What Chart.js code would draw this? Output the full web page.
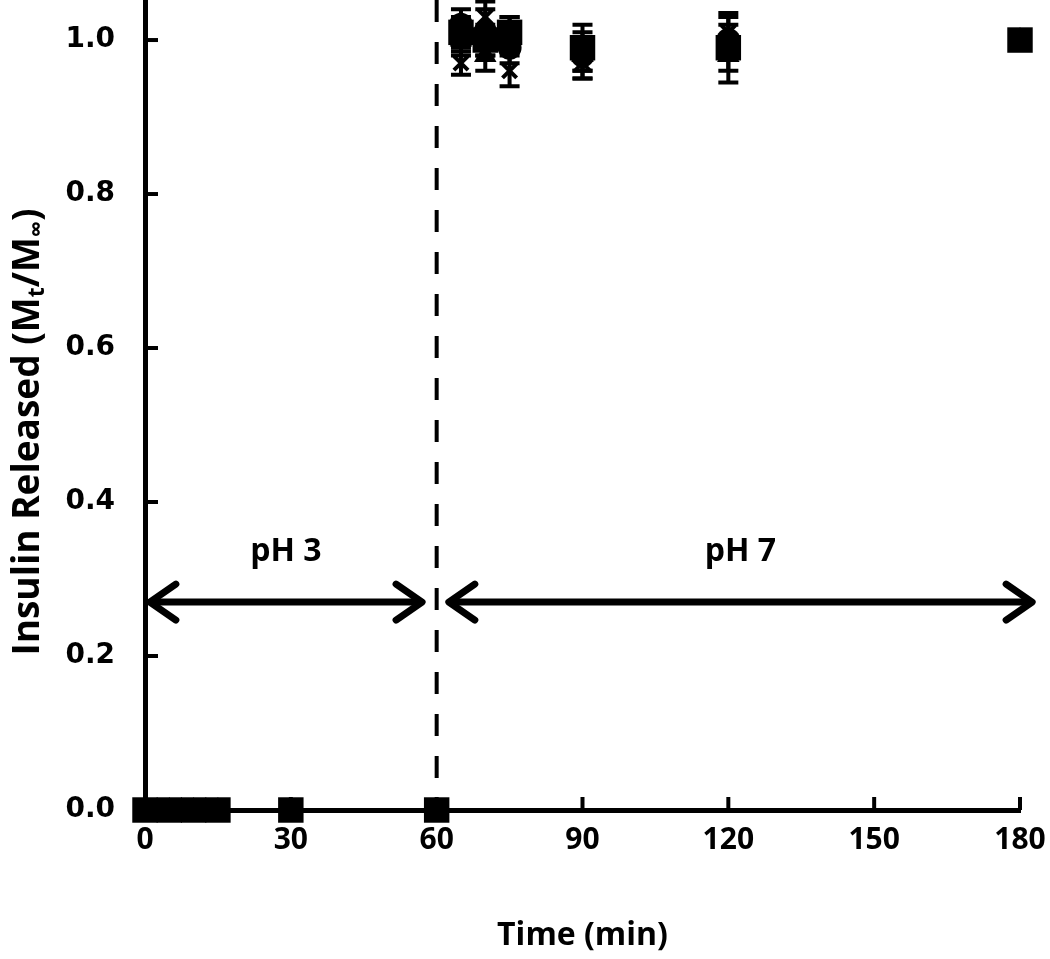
<!DOCTYPE html>
<html>
<head>
<meta charset="utf-8">
<script src="https://cdn.jsdelivr.net/npm/chart.js@4.4.0/dist/chart.umd.min.js"></script>
<style>
html,body{margin:0;padding:0;background:#fff;}
#wrap{width:1050px;height:959px;position:relative;}
</style>
</head>
<body>
<div id="wrap"><canvas id="c" width="1050" height="959"></canvas></div>
<script>
// ---- data ----
const times   = [0, 5, 10, 15, 30, 60, 65, 70, 75, 90, 120, 180];
const seriesA = [0, 0, 0, 0, 0, 0, 1.01, 1.00, 1.01, 0.99, 0.99, 1.00];
const seriesB = [0, 0, 0, 0, 0, 0, 1.02, 1.01, 0.99, 0.98, 1.00, 1.00];
const seriesC = [0, 0, 0, 0, 0, 0, 1.00, 0.98, 1.01, 0.98, 0.98, 1.00];
const seriesD = [0, 0, 0, 0, 0, 0, 0.97, 1.03, 0.96, 0.97, 1.01, 1.00];
const errA    = [0, 0, 0, 0, 0, 0, 0.02, 0.02, 0.02, 0.03, 0.045, 0];
const errB    = [0, 0, 0, 0, 0, 0, 0.02, 0.03, 0.02, 0.03, 0.02, 0];
const errC    = [0, 0, 0, 0, 0, 0, 0.02, 0.02, 0.02, 0.02, 0.02, 0];
const errD    = [0, 0, 0, 0, 0, 0, 0.015, 0.02, 0.02, 0.02, 0.02, 0];
const xTicks  = [0, 30, 60, 90, 120, 150, 180];
const yTicks  = [0.0, 0.2, 0.4, 0.6, 0.8, 1.0];
const phSwitch = 60;
const phLabels = ["pH 3", "pH 7"];
const phArrowStart = [1, 62.5];
const phArrowEnd   = [57, 182.5];
const phArrowY = 0.27;
const phLabelY = 0.335;
const xTitle = "Time (min)";
const yTitleParts = [["Insulin Released (M", false], ["t", true], ["/M", false], ["\u221E", true], [")", false]];

const allSeries = [seriesA, seriesB, seriesC, seriesD];
const allErr = [errA, errB, errC, errD];
const styles = [
  {pointStyle:'rect', pointRadius:18, borderWidth:0},
  {pointStyle:'circle', pointRadius:12, borderWidth:0},
  {pointStyle:'triangle', pointRadius:13, borderWidth:0},
  {pointStyle:'crossRot', pointRadius:10, borderWidth:4}
];

const NARROW = '"Liberation Sans Narrow", "Open Sans", sans-serif';

const datasets = allSeries.map((s, i) => ({
  label: 'S' + (i + 1),
  data: times.map((t, j) => ({x: t, y: s[j]})),
  showLine: false,
  backgroundColor: '#000',
  borderColor: '#000',
  pointStyle: styles[i].pointStyle,
  pointRadius: styles[i].pointRadius,
  pointBorderWidth: styles[i].borderWidth,
  pointHoverRadius: styles[i].pointRadius,
  clip: false
}));

const errPlugin = {
  id: 'errbars',
  beforeDatasetsDraw(chart) {
    const ctx = chart.ctx, xs = chart.scales.x, ys = chart.scales.y;
    ctx.save();
    ctx.strokeStyle = '#000';
    ctx.lineWidth = 4;
    allSeries.forEach((s, i) => {
      s.forEach((v, j) => {
        const e = allErr[i][j];
        if (!e) return;
        const x = xs.getPixelForValue(times[j]);
        const y1 = ys.getPixelForValue(v - e), y2 = ys.getPixelForValue(v + e);
        ctx.beginPath();
        ctx.moveTo(x, y1); ctx.lineTo(x, y2);
        ctx.moveTo(x - 10, y1); ctx.lineTo(x + 10, y1);
        ctx.moveTo(x - 10, y2); ctx.lineTo(x + 10, y2);
        ctx.stroke();
      });
    });
    ctx.restore();
  }
};

function arrowHead(ctx, x, y, dir) {
  ctx.beginPath();
  ctx.moveTo(x - dir * 26, y - 18);
  ctx.lineTo(x, y);
  ctx.lineTo(x - dir * 26, y + 18);
  ctx.stroke();
}

const decoPlugin = {
  id: 'deco',
  beforeDatasetsDraw(chart) {
    const ctx = chart.ctx, xs = chart.scales.x, ys = chart.scales.y, ca = chart.chartArea;
    ctx.save();
    // dashed line
    const xd = xs.getPixelForValue(phSwitch);
    ctx.strokeStyle = '#000';
    ctx.lineWidth = 4;
    ctx.setLineDash([22, 20]);
    ctx.beginPath();
    ctx.moveTo(xd, ca.top); ctx.lineTo(xd, ca.bottom);
    ctx.stroke();
    ctx.setLineDash([]);
    // arrows
    ctx.lineWidth = 7;
    ctx.lineCap = 'round';
    ctx.lineJoin = 'round';
    const ya = ys.getPixelForValue(phArrowY);
    for (let k = 0; k < 2; k++) {
      const x1 = xs.getPixelForValue(phArrowStart[k]), x2 = xs.getPixelForValue(phArrowEnd[k]);
      ctx.beginPath(); ctx.moveTo(x1 + 2, ya); ctx.lineTo(x2 - 2, ya); ctx.stroke();
      arrowHead(ctx, x1, ya, -1);
      arrowHead(ctx, x2, ya, 1);
      ctx.fillStyle = '#000';
      ctx.font = 'bold 32px ' + NARROW;
      ctx.textAlign = 'center';
      ctx.textBaseline = 'middle';
      ctx.fillText(phLabels[k], (x1 + x2) / 2, ys.getPixelForValue(phLabelY));
    }
    // inward ticks
    ctx.lineWidth = 4;
    ctx.lineCap = 'butt';
    yTicks.forEach(v => {
      if (v === 0) return;
      const y = ys.getPixelForValue(v);
      ctx.beginPath(); ctx.moveTo(ca.left, y); ctx.lineTo(ca.left + 13, y); ctx.stroke();
    });
    xTicks.forEach(v => {
      if (v === 0) return;
      const x = xs.getPixelForValue(v);
      ctx.beginPath(); ctx.moveTo(x, ca.bottom); ctx.lineTo(x, ca.bottom - 13); ctx.stroke();
    });
    // y title
    ctx.translate(28, 432);
    ctx.rotate(-Math.PI / 2);
    const bigF = 'bold 37px ' + NARROW, smallF = 'bold 23px ' + NARROW;
    let total = 0;
    yTitleParts.forEach(([t, sub]) => { ctx.font = sub ? smallF : bigF; total += ctx.measureText(t).width; });
    let cx = -total / 2;
    ctx.textAlign = 'left';
    ctx.textBaseline = 'middle';
    yTitleParts.forEach(([t, sub]) => {
      ctx.font = sub ? smallF : bigF;
      ctx.fillText(t, cx, sub ? 9 : 0);
      cx += ctx.measureText(t).width;
    });
    ctx.restore();
  }
};

new Chart(document.getElementById('c'), {
  type: 'scatter',
  data: { datasets },
  options: {
    responsive: false,
    animation: false,
    events: [],
    layout: { autoPadding: false, padding: { top: 0, right: 30, bottom: 0, left: 0 } },
    plugins: { legend: { display: false }, tooltip: { enabled: false } },
    scales: {
      x: {
        type: 'linear', min: 0, max: 180,
        afterBuildTicks: s => { s.ticks = xTicks.map(v => ({value: v})); },
        afterFit: s => { s.height = 149; s.paddingLeft = 0; s.paddingRight = 0; },
        grid: { display: false, drawTicks: false },
        border: { display: true, color: '#000', width: 5 },
        ticks: { color: '#000', padding: 12, maxRotation: 0, font: { family: NARROW, size: 30, weight: 'bold' } },
        title: { display: true, text: xTitle, color: '#000', padding: { top: 0, bottom: 4 }, font: { family: NARROW, size: 32, weight: 'bold' } }
      },
      y: {
        type: 'linear', min: 0, max: 1.052,
        afterBuildTicks: s => { s.ticks = yTicks.map(v => ({value: v})); },
        afterFit: s => { s.width = 145; s.paddingTop = 0; s.paddingBottom = 0; },
        grid: { display: false, drawTicks: false },
        border: { display: true, color: '#000', width: 5 },
        ticks: { color: '#000', padding: 30, callback: v => v.toFixed(1), font: { family: '"DejaVu Sans", sans-serif', size: 28, weight: 'bold' } }
      }
    }
  },
  plugins: [decoPlugin, errPlugin]
});
</script>
</body>
</html>
